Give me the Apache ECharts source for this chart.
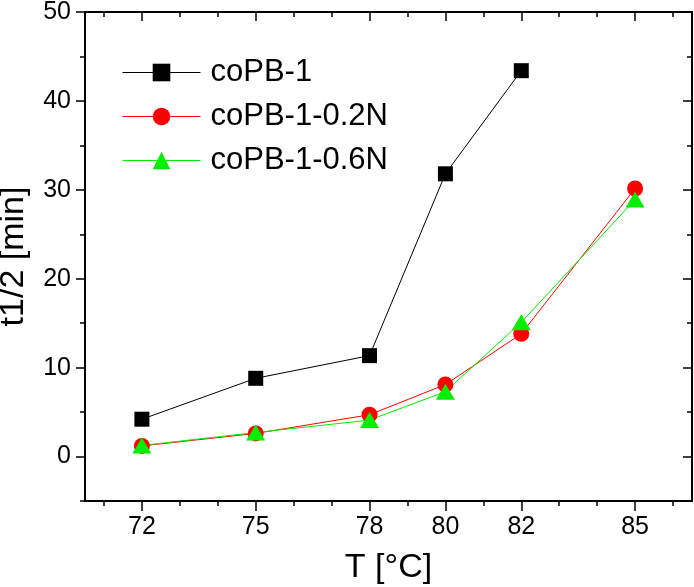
<!DOCTYPE html>
<html>
<head>
<meta charset="utf-8">
<script src="https://cdn.jsdelivr.net/npm/echarts@6/dist/echarts.min.js"></script>
<style>
  html, body { margin: 0; padding: 0; background: #fff; }
  #chart { width: 694px; height: 587px; }
</style>
</head>
<body>
<div id="chart"></div>
<script>
// temperatures and half-times
var temps = [72, 75, 78, 80, 82, 85];
var coPB1 = [4.2, 8.8, 11.35, 31.8, 43.4];
var coPB1_02N = [1.2, 2.6, 4.7, 8.1, 13.8, 30.15];
var coPB1_06N = [1.25, 2.7, 4.1, 7.3, 15.1, 28.9];

var xMajor = [72, 75, 78, 80, 82, 85];
var xMinor = [71, 73, 74, 76, 77, 79, 81, 83, 84, 86];
var yMajor = [0, 10, 20, 30, 40, 50];
var yMinor = [-5, 5, 15, 25, 35, 45];

var font = 'Liberation Sans';

function pairs(xs, ys) {
    var out = [];
    for (var i = 0; i < ys.length; i++) out.push([xs[i], ys[i]]);
    return out;
}

function xAx(grid, pos, ticks, len, inside, labels) {
    return {
        type: 'value', gridIndex: grid, position: pos, min: 70.5, max: 86.5,
        axisLine: { show: true, onZero: false, lineStyle: { color: '#000', width: 2 } },
        axisTick: { show: true, inside: inside, length: len, customValues: ticks,
            lineStyle: { color: '#000', width: 1.5 } },
        axisLabel: labels ? { show: true, customValues: xMajor, color: '#000',
            fontFamily: font, fontSize: 25, margin: 14 } : { show: false },
        splitLine: { show: false }
    };
}

function yAx(grid, pos, ticks, len, inside, labels) {
    return {
        type: 'value', gridIndex: grid, position: pos, min: -5, max: 50,
        axisLine: { show: true, onZero: false, lineStyle: { color: '#000', width: 2 } },
        axisTick: { show: true, inside: inside, length: len, customValues: ticks,
            lineStyle: { color: '#000', width: 1.5 } },
        axisLabel: labels ? { show: true, customValues: yMajor, color: '#000',
            fontFamily: font, fontSize: 25, margin: 14 } : { show: false },
        splitLine: { show: false }
    };
}

var xAxes = [
    xAx(0, 'bottom', xMajor, 10, false, true),
    xAx(0, 'top', xMajor, 9, true, false),
    xAx(1, 'bottom', xMinor, 5, false, false),
    xAx(1, 'top', xMinor, 5, true, false)
];
xAxes[0].name = 'T [°C]';
xAxes[0].nameLocation = 'middle';
xAxes[0].nameGap = 50;
xAxes[0].nameTextStyle = { color: '#000', fontFamily: font, fontSize: 34 };

var yAxes = [
    yAx(0, 'left', yMajor, 9, false, true),
    yAx(0, 'right', yMajor, 9, true, false),
    yAx(1, 'left', yMinor, 5, false, false),
    yAx(1, 'right', yMinor, 5, true, false)
];
yAxes[0].name = 't1/2 [min]';
yAxes[0].nameLocation = 'middle';
yAxes[0].nameGap = 54;
yAxes[0].nameTextStyle = { color: '#000', fontFamily: font, fontSize: 34 };

var gridBox = { left: 85, right: 2, top: 12, bottom: 86, containLabel: false, outerBoundsMode: 'none' };

var chart = echarts.init(document.getElementById('chart'));
chart.setOption({
    animation: false,
    grid: [gridBox, Object.assign({}, gridBox)],
    xAxis: xAxes,
    yAxis: yAxes,
    legend: {
        orient: 'vertical', left: 117, top: 52,
        itemWidth: 78, itemHeight: 22, itemGap: 13,
        lineStyle: { width: 1 },
        textStyle: { color: '#000', fontFamily: font, fontSize: 31, lineHeight: 30, padding: [0, 0, 0, 5] },
        data: ['coPB-1', 'coPB-1-0.2N', 'coPB-1-0.6N']
    },
    series: [
        {
            name: 'coPB-1', type: 'line', data: pairs(temps, coPB1),
            symbol: 'rect', symbolSize: 15,
            lineStyle: { color: '#000', width: 1 },
            itemStyle: { color: '#000' }
        },
        {
            name: 'coPB-1-0.2N', type: 'line', data: pairs(temps, coPB1_02N),
            symbol: 'circle', symbolSize: 16,
            lineStyle: { color: '#ff0000', width: 1 },
            itemStyle: { color: '#ff0000' }
        },
        {
            name: 'coPB-1-0.6N', type: 'line', data: pairs(temps, coPB1_06N),
            symbol: 'triangle', symbolSize: [19, 16],
            lineStyle: { color: '#00ee00', width: 1 },
            itemStyle: { color: '#00ee00' }
        }
    ]
});
</script>
</body>
</html>
